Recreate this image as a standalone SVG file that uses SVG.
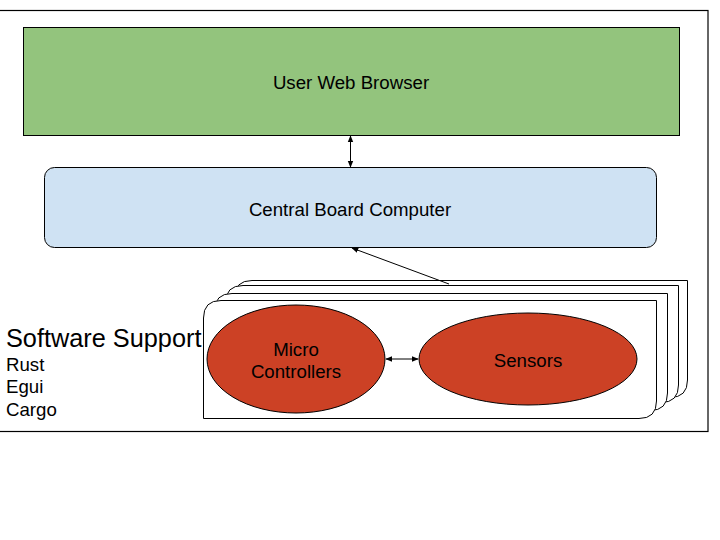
<svg xmlns="http://www.w3.org/2000/svg" width="720" height="540" viewBox="0 0 720 540">
<style>
text{font-family:"Liberation Sans",Arial,sans-serif;fill:#000;}
.lbl{font-size:18.67px;text-anchor:middle;}
.box{stroke:#000;stroke-width:1;}
.layer{fill:#fff;stroke:#000;stroke-width:1;}
.conn{stroke:#000;stroke-width:1;fill:none;}
</style>
<defs>
<marker id="ah" viewBox="0 0 10 10" refX="9" refY="5" markerWidth="7" markerHeight="7" orient="auto-start-reverse" markerUnits="userSpaceOnUse">
<path d="M0,1 L10,5 L0,9 Z" fill="#000"/>
</marker>
</defs>
<rect width="720" height="540" fill="#fff"/>
<g id="frame"><rect x="-2" y="10.5" width="710" height="421" fill="none" stroke="#000" stroke-width="1.2"/></g>
<g id="browser">
<rect class="box" x="23.5" y="27.5" width="656" height="108" fill="#93c47d"/>
<text class="lbl" x="351" y="89">User Web Browser</text>
</g>
<g id="cbc">
<rect class="box" x="44.5" y="167.5" width="612" height="80" rx="10" fill="#cfe2f3"/>
<text class="lbl" x="350" y="216">Central Board Computer</text>
</g>
<g id="devices">
<path class="layer" d="M234.5,298 Q234.5,280.5 252,280.5 H687.5 V380 Q687.5,397.5 670,397.5 H234.5 Z"/>
<path class="layer" d="M225.5,303 Q225.5,285.5 243,285.5 H678.5 V385 Q678.5,402.5 661,402.5 H225.5 Z"/>
<path class="layer" d="M214.5,311 Q214.5,293.5 232,293.5 H667.5 V393 Q667.5,410.5 650,410.5 H214.5 Z"/>
<path class="layer" d="M203.5,318 Q203.5,300.5 221,300.5 H656.5 V401 Q656.5,418.5 639,418.5 H203.5 Z"/>
</g>
<g id="micro">
<ellipse class="box" cx="296" cy="359" rx="89" ry="54" fill="#cc4125"/>
<text class="lbl" x="296" y="356">Micro</text>
<text class="lbl" x="296" y="378">Controllers</text>
</g>
<g id="sensors">
<ellipse class="box" cx="528" cy="359" rx="109" ry="46" fill="#cc4125"/>
<text class="lbl" x="528" y="367">Sensors</text>
</g>
<g id="software">
<text x="6" y="347" font-size="25.3">Software Support</text>
<text x="6" y="371" font-size="18.67">Rust</text>
<text x="6" y="393" font-size="18.67">Egui</text>
<text x="6" y="416" font-size="18.67">Cargo</text>
</g>
<g id="connectors">
<line class="conn" x1="350.5" y1="136" x2="350.5" y2="167" marker-start="url(#ah)" marker-end="url(#ah)"/>
<line class="conn" x1="449" y1="284" x2="352" y2="248" marker-end="url(#ah)"/>
<line class="conn" x1="386" y1="359" x2="418" y2="359" marker-start="url(#ah)" marker-end="url(#ah)"/>
</g>
</svg>
